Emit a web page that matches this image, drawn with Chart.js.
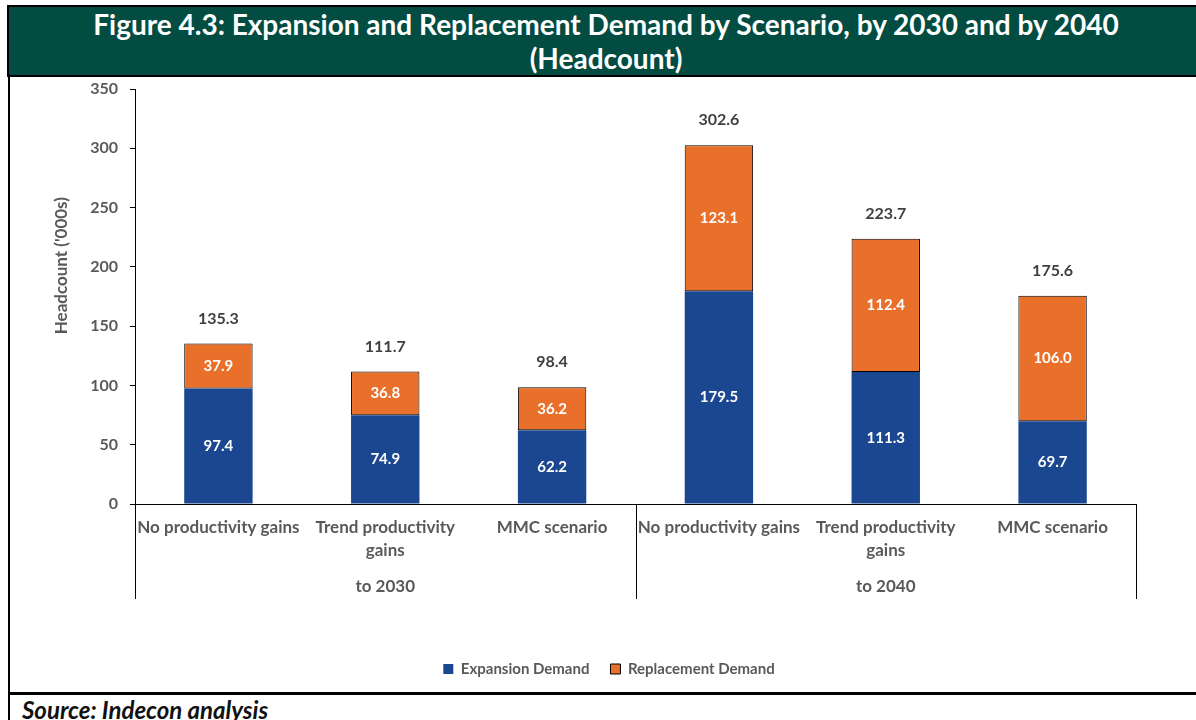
<!DOCTYPE html>
<html>
<head>
<meta charset="utf-8">
<script src="https://cdn.jsdelivr.net/npm/chart.js@4.4.1/dist/chart.umd.min.js"></script>
<style>
  body { margin: 0; width: 1196px; height: 720px; overflow: hidden; background: #fff; position: relative; font-family: Lato, sans-serif; }
  #title { position: absolute; left: 7px; top: 5px; width: 1194px; height: 68px; background: #024c42; border: 2px solid #000; color: #fff;
           font-weight: bold; font-size: 28px; line-height: 34px; text-align: center; }
  #frameLeft { position: absolute; left: 8px; top: 74px; width: 2px; height: 650px; background: #000; }
  #frameBottom { position: absolute; left: 8px; top: 692px; width: 1200px; height: 3px; background: #000; }
  #source { position: absolute; left: 22px; top: 695px; font-size: 24px; line-height: 30px; font-weight: bold; font-style: italic; color: #111; }
  #chartWrap { position: absolute; left: 0; top: 0; width: 1196px; height: 720px; }
</style>
</head>
<body>
<div id="title">Figure 4.3: Expansion and Replacement Demand by Scenario, by 2030 and by 2040<br>(Headcount)</div>
<div id="frameLeft"></div>
<div id="frameBottom"></div>
<div id="source">Source: Indecon analysis</div>
<div id="chartWrap"><canvas id="chart" width="1196" height="720"></canvas></div>
<script>
// scenario labels, grouped by horizon
const scenarios = [['No productivity gains'], ['Trend productivity', 'gains'], ['MMC scenario'],
                   ['No productivity gains'], ['Trend productivity', 'gains'], ['MMC scenario']];
const groupLabels = ['to 2030', 'to 2040'];
const groupSizes = [3, 3];

// headcount, '000s
const expansion = [97.4, 74.9, 62.2, 179.5, 111.3, 69.7];
const replacement = [37.9, 36.8, 36.2, 123.1, 112.4, 106.0];
const totals = [135.3, 111.7, 98.4, 302.6, 223.7, 175.6];

const yTicks = [0, 50, 100, 150, 200, 250, 300, 350];
const yTitle = "Headcount ('000s)";

const grey = '#595959';
const font = 'Lato';

// value labels inside each segment and totals above the stacks
const barLabels = {
    id: 'barLabels',
    afterDatasetsDraw(chart) {
        const ctx = chart.ctx;
        ctx.save();
        ctx.textAlign = 'center';
        ctx.textBaseline = 'middle';
        ctx.font = 'bold 15px ' + font;
        ctx.fillStyle = '#ffffff';
        chart.data.datasets.forEach((ds, di) => {
            chart.getDatasetMeta(di).data.forEach((el, i) => {
                ctx.fillText(ds.data[i].toFixed(1), el.x, (el.y + el.base) / 2);
            });
        });
        const top = chart.getDatasetMeta(chart.data.datasets.length - 1).data;
        ctx.font = 'bold 16px ' + font;
        ctx.fillStyle = '#404040';
        top.forEach((el, i) => {
            ctx.fillText(totals[i].toFixed(1), el.x, el.y - 25);
        });
        ctx.restore();
    }
};

// second level of the category axis: separators and group names
const groupAxis = {
    id: 'groupAxis',
    afterDraw(chart) {
        const x = chart.scales.x;
        const ctx = chart.ctx;
        const y0 = x.top, y1 = x.top + 95;
        const edge = i => {
            if (i <= 0) return x.left;
            if (i >= scenarios.length) return x.right;
            return (x.getPixelForValue(i - 1) + x.getPixelForValue(i)) / 2;
        };
        ctx.save();
        ctx.strokeStyle = '#000';
        ctx.lineWidth = 1;
        ctx.fillStyle = grey;
        ctx.font = 'bold 17px ' + font;
        ctx.textAlign = 'center';
        ctx.textBaseline = 'middle';
        let start = 0;
        groupSizes.forEach((n, g) => {
            const a = edge(start), b = edge(start + n);
            ctx.beginPath();
            ctx.moveTo(Math.round(a) + 0.5, y0);
            ctx.lineTo(Math.round(a) + 0.5, y1);
            ctx.stroke();
            if (g === groupSizes.length - 1) {
                ctx.beginPath();
                ctx.moveTo(Math.round(b) + 0.5, y0);
                ctx.lineTo(Math.round(b) + 0.5, y1);
                ctx.stroke();
            }
            ctx.fillText(groupLabels[g], (a + b) / 2, y0 + 83);
            start += n;
        });

        // y axis title sits a little above the middle of the axis
        const y = chart.scales.y;
        ctx.translate(62, y.getPixelForValue(201));
        ctx.rotate(-Math.PI / 2);
        ctx.font = 'bold 17px ' + font;
        ctx.fillText(yTitle, 0, 0);
        ctx.restore();
    }
};

// nudge the legend row so it sits under the middle of the plot
const legendShift = {
    id: 'legendShift',
    afterLayout(chart) {
        chart.legend.left += 17;
        chart.legend.right += 17;
    }
};

const ctx1 = document.getElementById('chart').getContext('2d');
const demandChart = new Chart(ctx1, {
    type: 'bar',
    data: {
        labels: scenarios,
        datasets: [{
            label: 'Expansion Demand',
            data: expansion,
            backgroundColor: '#1a4790',
            borderWidth: 0,
            barPercentage: 0.41,
            categoryPercentage: 1
        }, {
            label: 'Replacement Demand',
            data: replacement,
            backgroundColor: '#e9702a',
            borderColor: '#000000',
            borderWidth: 1,
            borderSkipped: false,
            barPercentage: 0.41,
            categoryPercentage: 1
        }]
    },
    options: {
        responsive: false,
        animation: false,
        layout: { padding: { top: 89, left: 48, right: 60, bottom: 33.5 } },
        plugins: {
            tooltip: { enabled: false },
            legend: {
                position: 'bottom',
                labels: { boxWidth: 10, boxHeight: 10, padding: 21, color: grey, font: { family: font, size: 15, weight: 'bold' } }
            }
        },
        scales: {
            x: {
                stacked: true,
                grid: { display: false, drawTicks: false },
                border: { display: true, color: '#000', width: 1 },
                ticks: { color: grey, padding: 12.5, maxRotation: 0, minRotation: 0, autoSkip: false,
                         font: { family: font, size: 17, weight: 'bold', lineHeight: 1.35 } },
                afterFit(scale) { scale.height = 136.5; }
            },
            y: {
                stacked: true,
                min: 0,
                max: 350,
                afterBuildTicks(scale) { scale.ticks = yTicks.map(v => ({ value: v })); },
                grid: { drawOnChartArea: false, drawTicks: true, tickLength: 5, color: '#000' },
                border: { display: true, color: '#000', width: 1 },
                ticks: { color: grey, padding: 12, font: { family: font, size: 16, weight: 'bold' } },
                afterFit(scale) { scale.width = 87; }
            }
        }
    },
    plugins: [barLabels, groupAxis, legendShift]
});
</script>
</body>
</html>
